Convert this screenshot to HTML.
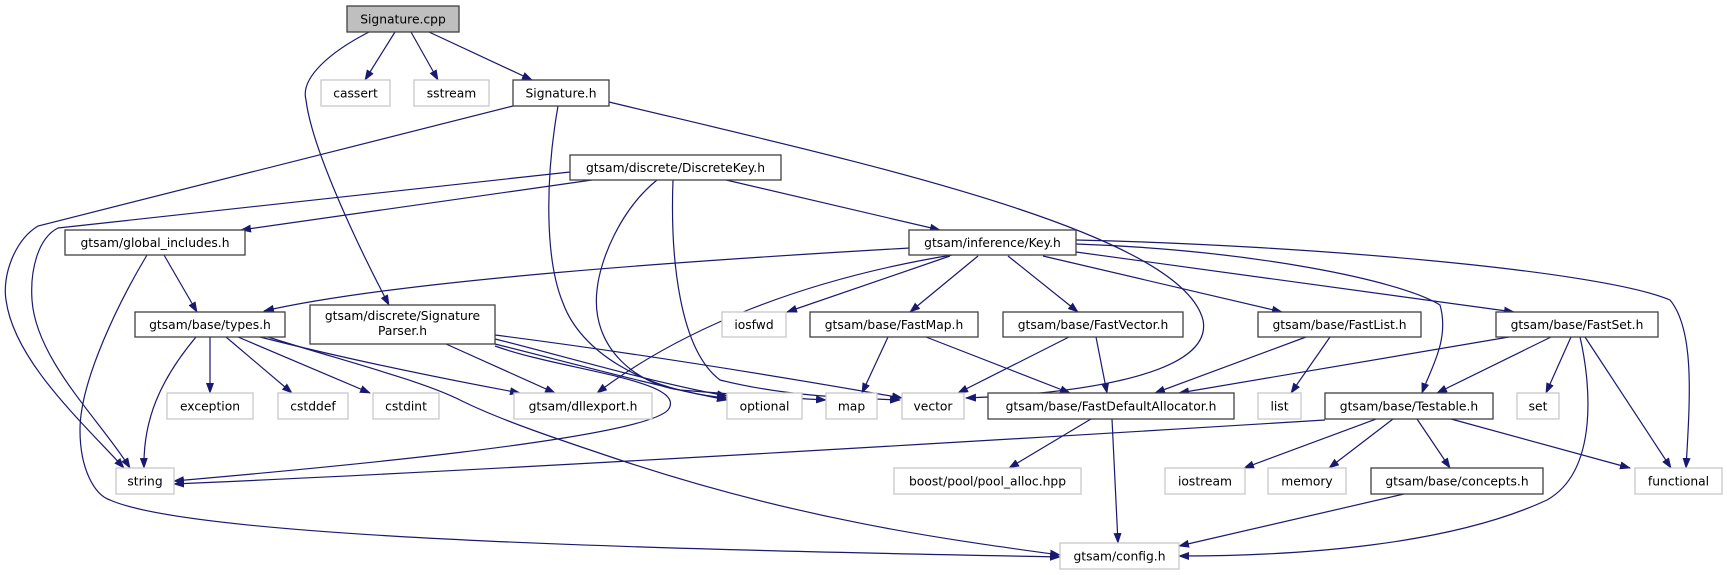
<!DOCTYPE html>
<html><head><meta charset="utf-8"><style>
html,body{margin:0;padding:0;background:#fff;}
svg{display:block;}
text{font-family:"DejaVu Sans","Liberation Sans",sans-serif;font-size:12.3px;fill:#000;text-anchor:middle;}
.e{fill:none;stroke:#191970;stroke-width:1.2;}
.d{fill:#fff;stroke:#404040;stroke-width:1.3;}
.g{fill:#fff;stroke:#c8c8c8;stroke-width:1.3;}
</style></head><body>
<svg width="1727" height="575" viewBox="0 0 1727 575" xmlns="http://www.w3.org/2000/svg">
<defs><marker id="a" markerWidth="11" markerHeight="8" refX="10" refY="4" orient="auto" markerUnits="userSpaceOnUse"><path d="M0,0 L11,4 L0,8 z" fill="#191970"/></marker></defs>
<g marker-end="url(#a)">
<path class="e" d="M395,32 L365,80"/>
<path class="e" d="M411,32 L438,80"/>
<path class="e" d="M429,32 L532,80"/>
<path class="e" d="M369,32 C330,52 300,78 306,100 C312,150 360,250 389,305"/>
<path class="e" d="M513,106 L38,226 C15,240 2,275 6,300 C14,360 80,420 124,468"/>
<path class="e" d="M570,172 L58,228 C38,238 30,270 32,300 C36,360 100,420 130,468"/>
<path class="e" d="M592,180 L241,230"/>
<path class="e" d="M726,180 L940,230"/>
<path class="e" d="M657,180 C620,210 600,260 597,290 C590,350 640,385 680,390 C740,395 790,398 826,400"/>
<path class="e" d="M673,180 C670,260 680,350 720,380 C780,395 840,398 900,400"/>
<path class="e" d="M558,106 C545,180 545,260 563,303 C580,350 640,390 727,398"/>
<path class="e" d="M609,102 C850,160 1180,230 1203,320 C1215,380 1050,395 966,398"/>
<path class="e" d="M495,344 C560,360 650,385 727,400"/>
<path class="e" d="M495,339 C560,355 650,382 727,396"/>
<path class="e" d="M495,335 C650,355 800,380 902,398"/>
<path class="e" d="M495,346 C560,370 690,380 668,410 C640,440 300,470 174,481"/>
<path class="e" d="M446,344 L555,393"/>
<path class="e" d="M196,337 C160,380 143,420 144,468"/>
<path class="e" d="M210,337 L210,393"/>
<path class="e" d="M226,337 L292,393"/>
<path class="e" d="M238,337 L370,393"/>
<path class="e" d="M260,337 C350,360 450,380 520,393"/>
<path class="e" d="M268,337 C340,360 420,380 460,400 C500,420 560,440 620,460 C800,520 950,540 1060,555"/>
<path class="e" d="M164,255 L197,312"/>
<path class="e" d="M147,255 C120,300 80,380 80,430 C80,470 95,495 110,500 C200,540 700,550 1060,557"/>
<path class="e" d="M910,248 C700,260 400,280 264,311"/>
<path class="e" d="M952,255 C800,280 680,330 597,393"/>
<path class="e" d="M950,256 L787,312"/>
<path class="e" d="M978,256 L910,312"/>
<path class="e" d="M1008,256 L1078,312"/>
<path class="e" d="M1043,256 L1282,312"/>
<path class="e" d="M1076,252 L1514,312"/>
<path class="e" d="M1076,244 C1250,250 1400,280 1440,305 C1450,340 1430,370 1422,393"/>
<path class="e" d="M1076,240 C1300,245 1600,270 1670,300 C1695,330 1690,400 1686,468"/>
<path class="e" d="M888,337 L862,393"/>
<path class="e" d="M926,337 L1070,393"/>
<path class="e" d="M1069,337 L958,393"/>
<path class="e" d="M1096,337 L1107,393"/>
<path class="e" d="M1306,337 L1155,393"/>
<path class="e" d="M1330,337 L1291,393"/>
<path class="e" d="M1509,337 L1179,393"/>
<path class="e" d="M1551,337 L1437,393"/>
<path class="e" d="M1571,337 L1546,393"/>
<path class="e" d="M1585,337 L1671,468"/>
<path class="e" d="M1580,337 C1590,380 1600,470 1547,500 C1450,545 1300,556 1179,556"/>
<path class="e" d="M1325,420 C1000,440 500,470 174,484"/>
<path class="e" d="M1376,419 L1244,468"/>
<path class="e" d="M1393,419 L1329,468"/>
<path class="e" d="M1417,419 L1450,468"/>
<path class="e" d="M1451,419 L1630,468"/>
<path class="e" d="M1404,494 L1179,546"/>
<path class="e" d="M1091,419 L1009,468"/>
<path class="e" d="M1112,419 L1118,543"/>
</g>
<rect x="347" y="6" width="112" height="26" fill="#bfbfbf" stroke="#404040" stroke-width="1.3"/><text x="403" y="23.5">Signature.cpp</text>
<rect class="g" x="321" y="80" width="69" height="26"/><text x="355.5" y="97.5">cassert</text>
<rect class="g" x="414" y="80" width="75" height="26"/><text x="451.5" y="97.5">sstream</text>
<rect class="d" x="513" y="80" width="96" height="26"/><text x="561" y="97.5">Signature.h</text>
<rect class="d" x="570" y="155" width="211" height="25"/><text x="675.5" y="172">gtsam/discrete/DiscreteKey.h</text>
<rect class="d" x="909" y="230" width="167" height="25"/><text x="992.5" y="247">gtsam/inference/Key.h</text>
<rect class="d" x="65" y="230" width="180" height="25"/><text x="155" y="247">gtsam/global_includes.h</text>
<rect class="d" x="135" y="312" width="150" height="25"/><text x="210" y="329">gtsam/base/types.h</text>
<rect class="d" x="310" y="305" width="185" height="39"/><text x="402.5" y="320">gtsam/discrete/Signature</text><text x="402.5" y="335">Parser.h</text>
<rect class="d" x="810" y="312" width="168" height="25"/><text x="894" y="329">gtsam/base/FastMap.h</text>
<rect class="d" x="1003" y="312" width="180" height="25"/><text x="1093" y="329">gtsam/base/FastVector.h</text>
<rect class="d" x="1258" y="312" width="163" height="25"/><text x="1339.5" y="329">gtsam/base/FastList.h</text>
<rect class="d" x="1496" y="312" width="162" height="25"/><text x="1577" y="329">gtsam/base/FastSet.h</text>
<rect class="g" x="722" y="312" width="64" height="25"/><text x="754" y="329">iosfwd</text>
<rect class="g" x="167" y="393" width="86" height="26"/><text x="210" y="410.5">exception</text>
<rect class="g" x="278" y="393" width="70" height="26"/><text x="313" y="410.5">cstddef</text>
<rect class="g" x="373" y="393" width="66" height="26"/><text x="406" y="410.5">cstdint</text>
<rect class="g" x="514" y="393" width="138" height="26"/><text x="583" y="410.5">gtsam/dllexport.h</text>
<rect class="g" x="727" y="393" width="75" height="26"/><text x="764.5" y="410.5">optional</text>
<rect class="g" x="826" y="393" width="51" height="26"/><text x="851.5" y="410.5">map</text>
<rect class="g" x="902" y="393" width="62" height="26"/><text x="933" y="410.5">vector</text>
<rect class="d" x="988" y="393" width="246" height="26"/><text x="1111" y="410.5">gtsam/base/FastDefaultAllocator.h</text>
<rect class="g" x="1258" y="393" width="43" height="26"/><text x="1279.5" y="410.5">list</text>
<rect class="d" x="1325" y="393" width="168" height="26"/><text x="1409" y="410.5">gtsam/base/Testable.h</text>
<rect class="g" x="1517" y="393" width="42" height="26"/><text x="1538" y="410.5">set</text>
<rect class="g" x="116" y="468" width="58" height="26"/><text x="145" y="485.5">string</text>
<rect class="g" x="894" y="468" width="187" height="26"/><text x="987.5" y="485.5">boost/pool/pool_alloc.hpp</text>
<rect class="g" x="1165" y="468" width="80" height="26"/><text x="1205" y="485.5">iostream</text>
<rect class="g" x="1268" y="468" width="78" height="26"/><text x="1307" y="485.5">memory</text>
<rect class="d" x="1371" y="468" width="172" height="26"/><text x="1457" y="485.5">gtsam/base/concepts.h</text>
<rect class="g" x="1635" y="468" width="87" height="26"/><text x="1678.5" y="485.5">functional</text>
<rect class="g" x="1060" y="543" width="119" height="26"/><text x="1119.5" y="560.5">gtsam/config.h</text>
</svg>
</body></html>
